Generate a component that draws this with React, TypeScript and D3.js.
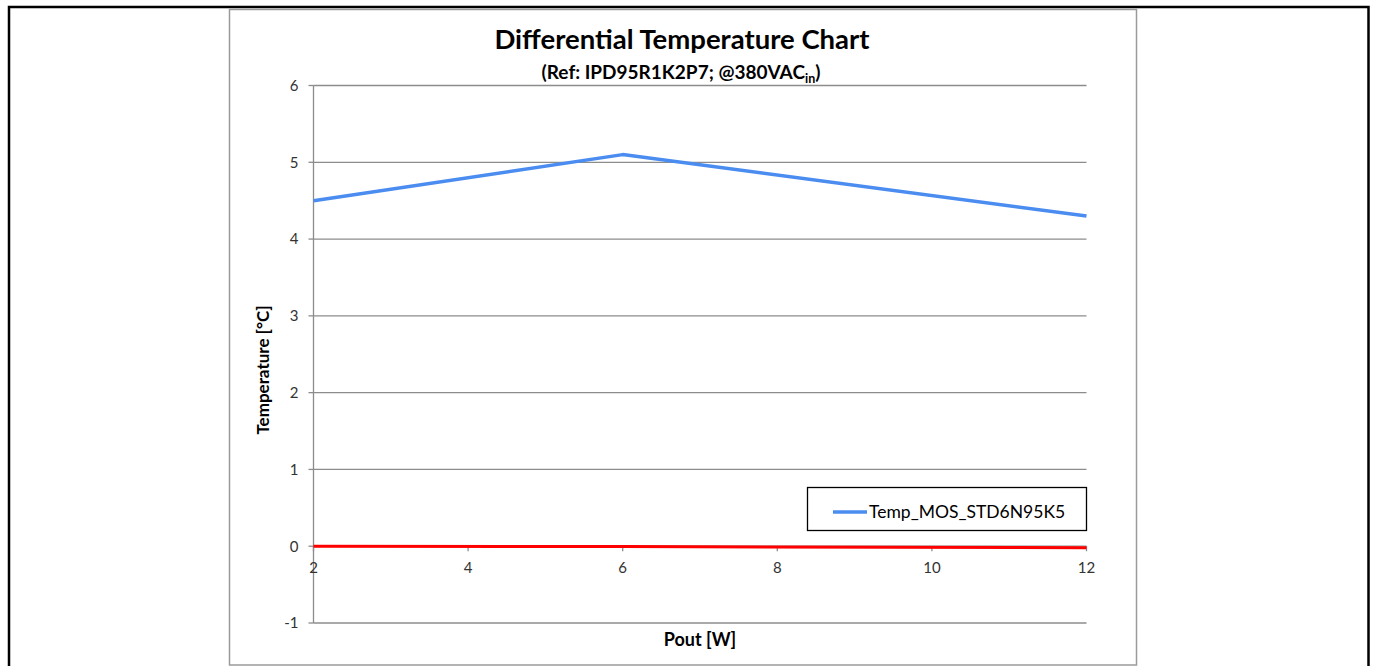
import React from "react";
import * as d3 from "d3";

const xTicks = [2, 4, 6, 8, 10, 12];
const yTicks = [-1, 0, 1, 2, 3, 4, 5, 6];
const poutW = [2, 6, 12];
const tempMos = [4.5, 5.1, 4.3];
const refLine = [0, -0.005, -0.02];
const seriesName = "Temp_MOS_STD6N95K5";
const titleText = "Differential Temperature Chart";
const xTitle = "Pout [W]";
const yTitle = "Temperature [°C]";

const W = 1375;
const H = 666;
const FONT = "Lato, 'Open Sans', sans-serif";

export default function App() {
  const x = d3.scaleLinear().domain([2, 12]).range([313.5, 1086.5]);
  const y = d3.scaleLinear().domain([-1, 6]).range([623, 85.5]);
  const line = d3
    .line<number>()
    .x((_, i) => x(poutW[i]))
    .y((d) => y(d));

  return (
    <div style={{ position: "fixed", left: 0, top: 0 }}>
      <svg width={W} height={H} style={{ display: "block", background: "#fff" }}>
        {/* outer frame */}
        <rect x={9} y={7} width={1359.5} height={H} fill="none" stroke="#000" strokeWidth={2.5} />
        {/* chart area frame */}
        <rect x={229.5} y={9.5} width={907} height={655.5} fill="#fff" stroke="#9a9a9a" strokeWidth={1.5} />

        {/* gridlines */}
        {yTicks.map((t) => (
          <line key={"g" + t} x1={x(2)} x2={x(12)} y1={y(t)} y2={y(t)} stroke="#8c8c8c" strokeWidth={1.3} />
        ))}
        {/* y axis */}
        <line x1={x(2)} x2={x(2)} y1={y(6)} y2={y(-1)} stroke="#8c8c8c" strokeWidth={1.3} />
        {yTicks.map((t) => (
          <g key={"yt" + t}>
            <line x1={x(2) - 5} x2={x(2)} y1={y(t)} y2={y(t)} stroke="#8c8c8c" strokeWidth={1.3} />
            <text x={x(2) - 15} y={y(t)} dy="0.36em" textAnchor="end" fontFamily={FONT} fontSize={15} fill="#333">
              {t}
            </text>
          </g>
        ))}
        {/* x axis ticks */}
        {xTicks.map((t) => (
          <g key={"xt" + t}>
            <line x1={x(t)} x2={x(t)} y1={y(0)} y2={y(0) + 5} stroke="#8c8c8c" strokeWidth={1.3} />
            <text x={x(t)} y={y(0) + 26.5} textAnchor="middle" fontFamily={FONT} fontSize={15} fill="#333">
              {t}
            </text>
          </g>
        ))}

        {/* series */}
        <path d={line(refLine) || ""} fill="none" stroke="#ff0000" strokeWidth={3} />
        <path d={line(tempMos) || ""} fill="none" stroke="#4a8cf0" strokeWidth={3.5} strokeLinejoin="round" />

        {/* titles */}
        <text x={682} y={49} textAnchor="middle" fontFamily={FONT} fontWeight="bold" fontSize={27.5} fill="#000">
          {titleText}
        </text>
        <text x={681} y={79} textAnchor="middle" fontFamily={FONT} fontWeight="bold" fontSize={19} fill="#000">
          (Ref: IPD95R1K2P7; @380VAC
          <tspan fontSize={12.5} dy={4}>in</tspan>
          <tspan dy={-4}>)</tspan>
        </text>
        <text x={700} y={646} textAnchor="middle" fontFamily={FONT} fontWeight="bold" fontSize={18} fill="#000">
          {xTitle}
        </text>
        <text
          transform={`translate(269, 370) rotate(-90)`}
          textAnchor="middle"
          fontFamily={FONT}
          fontWeight="bold"
          fontSize={17}
          fill="#000"
        >
          {yTitle}
        </text>

        {/* legend */}
        <rect x={807.5} y={487.5} width={279} height={43} fill="#fff" stroke="#000" strokeWidth={1.3} />
        <line x1={833} x2={867} y1={512} y2={512} stroke="#4a8cf0" strokeWidth={3.5} />
        <text x={869} y={512} dy="0.36em" fontFamily={FONT} fontSize={17.5} fill="#000">
          {seriesName}
        </text>
      </svg>
    </div>
  );
}
